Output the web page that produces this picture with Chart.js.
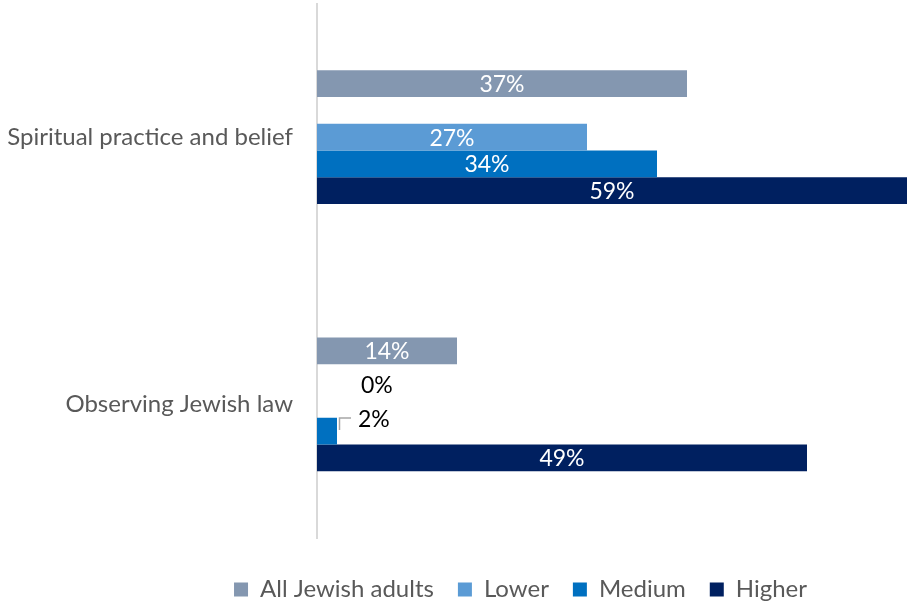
<!DOCTYPE html>
<html>
<head>
<meta charset="utf-8">
<script src="https://cdn.jsdelivr.net/npm/chart.js@4.4.1/dist/chart.umd.min.js"></script>
<style>
  html, body { margin: 0; padding: 0; background: #fff; overflow: hidden; }
  #wrap { width: 907px; height: 602px; }
</style>
</head>
<body>
<div id="wrap"><canvas id="myBarChart"></canvas></div>
<script>
// Categories and series
const categories = ["Spiritual practice and belief", "Observing Jewish law"];
const allAdults = [37, 14];
const lower = [27, 0];
const medium = [34, 2];
const higher = [59, 49];
const spacer = [null, null];

const seriesColors = ["#8497b0", "#ffffff", "#5b9bd5", "#0070c0", "#002060"];

// value labels: white inside the bar, black beside it when the bar is tiny
const barLabels = {
  id: 'barLabels',
  afterDatasetsDraw(chart) {
    const ctx = chart.ctx;
    ctx.save();
    ctx.font = '23px Lato';
    ctx.textBaseline = 'middle';
    chart.data.datasets.forEach((ds, i) => {
      if (ds.label === '') return;
      chart.getDatasetMeta(i).data.forEach((bar, j) => {
        const v = ds.data[j];
        if (v == null) return;
        if (v >= 5) {
          ctx.fillStyle = '#ffffff';
          ctx.textAlign = 'center';
          ctx.fillText(v + '%', (bar.x + bar.base) / 2, bar.y + 1);
        } else {
          ctx.fillStyle = '#000000';
          ctx.textAlign = 'left';
          if (v === 0) {
            ctx.fillText(v + '%', bar.x + 44, bar.y - 19);
          } else {
            ctx.fillText(v + '%', bar.x + 21, bar.y - 12);
            // leader line
            ctx.strokeStyle = '#a6a6a6';
            ctx.lineWidth = 1.5;
            ctx.beginPath();
            ctx.moveTo(bar.x + 2.5, bar.y - 1);
            ctx.lineTo(bar.x + 2.5, bar.y - 13);
            ctx.lineTo(bar.x + 14, bar.y - 13);
            ctx.stroke();
          }
        }
      });
    });
    ctx.restore();
  }
};

// nudge the legend row to the right
const legendShift = {
  id: 'legendShift',
  afterLayout(chart) {
    if (chart.legend) chart.legend.left = 134;
  }
};

let chartEl = document.getElementById("myBarChart");

let myChart = new Chart(chartEl, {
  type: 'bar',
  data: {
    labels: categories,
    datasets: [
      { label: "All Jewish adults", data: allAdults, backgroundColor: seriesColors[0] },
      { label: "", data: spacer, backgroundColor: seriesColors[1] },
      { label: "Lower", data: lower, backgroundColor: seriesColors[2] },
      { label: "Medium", data: medium, backgroundColor: seriesColors[3] },
      { label: "Higher", data: higher, backgroundColor: seriesColors[4] }
    ]
  },
  options: {
    indexAxis: 'y',
    responsive: true,
    maintainAspectRatio: false,
    animation: false,
    categoryPercentage: 0.5,
    barPercentage: 1,
    layout: { padding: { top: 3.5, right: 0, bottom: -9.5, left: 0 } },
    scales: {
      x: {
        display: false,
        min: 0,
        max: 59
      },
      y: {
        grid: { display: false, drawTicks: false },
        border: { display: true, color: '#d9d9d9', width: 2 },
        ticks: {
          color: '#595959',
          font: { family: 'Lato', size: 24 },
          padding: 24
        },
        afterFit(scale) {
          scale.width = 317;
          scale.paddingTop = 0;
          scale.paddingBottom = 0;
        }
      }
    },
    plugins: {
      tooltip: { enabled: false },
      legend: {
        position: 'bottom',
        title: { display: true, text: '', font: { size: 1 }, padding: { top: 0, bottom: 14.3 } },
        labels: {
          filter: item => item.text !== '',
          boxWidth: 14,
          boxHeight: 14,
          color: '#595959',
          font: { family: 'Lato', size: 24 },
          padding: 24
        }
      }
    }
  },
  plugins: [barLabels, legendShift]
});
</script>
</body>
</html>
